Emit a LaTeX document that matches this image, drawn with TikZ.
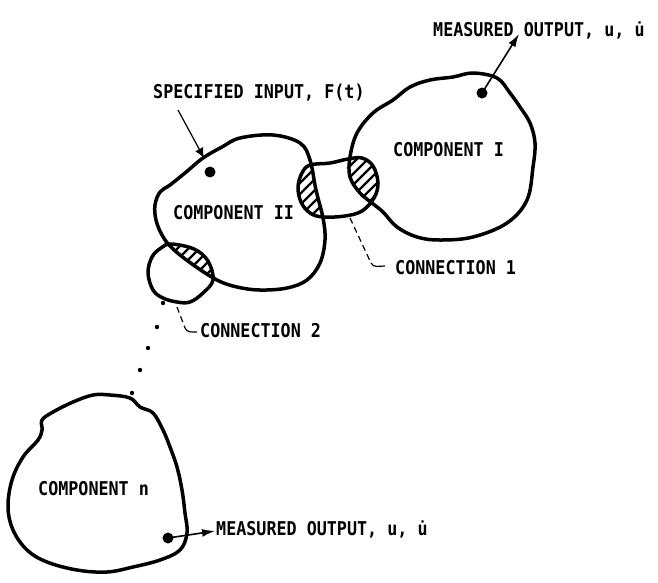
\documentclass[tikz,border=0pt]{standalone}
\usepackage{fontspec}
\newfontfamily\lblfont[FakeStretch=0.88]{DejaVu Sans Mono Bold}
\usetikzlibrary{arrows.meta}
\begin{document}
\begin{tikzpicture}[x=1pt,y=-1pt,
  blob/.style={line width=3.5pt, line join=round},
  lbl/.style={font=\lblfont\fontsize{19}{22}\selectfont, inner sep=0pt, anchor=base west},
  dotn/.style={circle, fill, inner sep=0pt, minimum size=11pt},
  sdot/.style={circle, fill, inner sep=0pt, minimum size=4.4pt},
  arr/.style={line width=1.6pt, -{Latex[length=13pt,width=8pt]}},
  lead/.style={line width=1.2pt, dash pattern=on 6pt off 4pt},
  hatch/.style={line width=2.2pt},
  compIpath/.style={insert path={plot[smooth cycle, tension=0.6] coordinates {(350,157) (357,133) (373,113) (393,100) (410,87) (430,80) (453,77) (473,73) (497,78) (510,93) (520,107) (530,123) (535,143) (533,167) (527,200) (507,223) (473,237) (440,240) (417,237) (397,227) (383,212) (372,203) (360,193) (350,177)}}},
  compIIpath/.style={insert path={plot[smooth cycle, tension=0.6] coordinates {(203,158) (222,147) (240,138) (273,135) (300,143) (310,160) (316,190) (323,218) (325,240) (320,263) (307,280) (287,288) (260,290) (237,287) (217,280) (192,264) (172,248) (162,235) (156,220) (155,205) (160,192) (170,185) (185,173)}}},
  compNpath/.style={insert path={plot[smooth cycle, tension=0.6] coordinates {(130,398) (140,407) (153,413) (163,430) (170,447) (177,467) (182,490) (185,513) (187,533) (180,550) (160,560) (133,567) (107,572) (77,570) (47,562) (27,550) (13,530) (8,507) (12,480) (23,457) (38,440) (42,430) (42,420) (53,412) (73,402) (93,395) (110,395)}}},
  connApath/.style={insert path={plot[smooth cycle, tension=0.6] coordinates {(310,165) (330,163) (348,159) (362,158) (373,166) (378,183) (374,198) (362,211) (345,216) (323,217) (310,213) (301,202) (298,187) (302,173)}}},
  connBpath/.style={insert path={plot[smooth cycle, tension=0.6] coordinates {(171,244) (194,249) (208,261) (213,280) (203,293) (190,302) (177,302) (163,298) (153,290) (148,273) (152,257) (161,248)}}}
]
\useasboundingbox (0,0) rectangle (658,582);

% hatching
\begin{scope}
  \clip[connApath];
  \clip[compIIpath];
  \foreach \k in {0,...,16} \draw[hatch] (\k*11+150,300) -- (\k*11+350,100);
\end{scope}
\begin{scope}
  \clip[connApath];
  \clip[compIpath];
  \foreach \k in {0,...,16} \draw[hatch] (\k*11+150,300) -- (\k*11+350,100);
\end{scope}
\begin{scope}
  \clip[connBpath];
  \clip[compIIpath];
  \foreach \k in {0,...,10} \draw[hatch] (\k*11+105,310) -- (\k*11+305,110);
\end{scope}

% outlines
\draw[blob, compIpath];
\draw[blob, compIIpath];
\draw[blob, compNpath];
\draw[blob, connApath];
\draw[blob, connBpath];

% labels
\node[lbl] (outI) at (433,36) {MEASURED OUTPUT, u, u̇};
\node[lbl] (inp) at (153,98) {SPECIFIED INPUT, F(t)};
\node[lbl] (cI) at (393,156) {COMPONENT I};
\node[lbl] (cII) at (173,219) {COMPONENT II};
\node[lbl] (cn1) at (395,274) {CONNECTION 1};
\node[lbl] (cn2) at (200,337) {CONNECTION 2};
\node[lbl] (cN) at (38,495) {COMPONENT n};
\node[lbl] (outN) at (216,535) {MEASURED OUTPUT, u, u̇};

% dots and arrows
\node[dotn] (d1) at (482,93) {};
\coordinate (o1) at (519,34);
\draw[arr] (d1.center) -- (o1);

\node[dotn] (d2) at (210,172) {};
\coordinate (i0) at (178,110);
\coordinate (i1) at (204,158);
\draw[line width=1.2pt, -{Latex[length=10pt,width=9pt]}] (i0) -- (i1);

\node[dotn] (dn) at (168,538) {};
\coordinate (on) at (215,531);
\draw[arr] (dn.center) -- (on);

% leaders
\coordinate (c1a) at (350,218);
\coordinate (c1b) at (371,263);
\coordinate (c1c) at (385,266);
\draw[lead] (c1a) -- (c1b);
\draw[line width=1.2pt] (c1b) to[out=-65,in=180] (c1c);
\coordinate (c2a) at (177,307);
\coordinate (c2b) at (185,328);
\coordinate (c2c) at (197,332);
\draw[lead] (c2a) -- (c2b);
\draw[line width=1.2pt] (c2b) to[out=-70,in=180] (c2c);

% ellipsis dots
\node[sdot] (e1) at (163,303) {};
\node[sdot] (e2) at (157,327) {};
\node[sdot] (e3) at (148,348) {};
\node[sdot] (e4) at (140,370) {};
\node[sdot] (e5) at (132,393) {};
\end{tikzpicture}
\end{document}
